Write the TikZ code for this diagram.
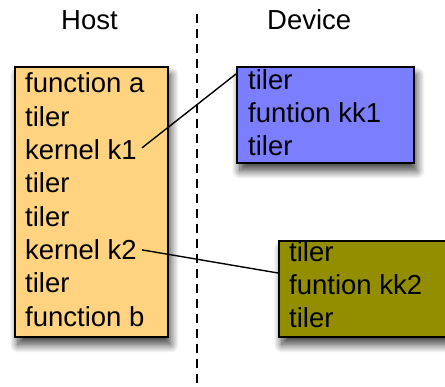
\documentclass[tikz,border=0pt]{standalone}
\usepackage{fontspec}
\setmainfont{Liberation Sans}
\usetikzlibrary{shadows.blur}
\definecolor{hostfill}{RGB}{255,211,128}
\definecolor{kkonefill}{RGB}{122,126,255}
\definecolor{kktwofill}{RGB}{146,142,0}
\tikzset{
  boxstyle/.style={draw=black, line width=1.6pt, rectangle, anchor=north west, inner sep=0pt,
    blur shadow={shadow xshift=3pt, shadow yshift=-8pt, shadow blur steps=14, shadow blur radius=8pt, shadow opacity=75}},
  txt/.style={anchor=base west, inner sep=0pt},
  conn/.style={draw=black, line width=1.4pt},
  divider/.style={draw=black, line width=1.4pt, dash pattern=on 9pt off 6pt}
}
\begin{document}
\begin{tikzpicture}[x=1pt, y=-1pt, font=\fontsize{27.5pt}{33pt}\selectfont]
\useasboundingbox (0,0) rectangle (445,387);
% titles
\node[txt] (hosttitle) at (61,29.3) {Host};
\node[txt] (devtitle) at (267,29.3) {Device};
% divider
\coordinate (divtop) at (197,14);
\coordinate (divbot) at (197,390);
\draw[divider] (divtop) -- (divbot);
% boxes
\node[boxstyle, fill=hostfill, minimum width=153pt, minimum height=270pt] (host) at (14,66) {};
\node[boxstyle, fill=kkonefill, minimum width=177pt, minimum height=96pt] (kkone) at (236,66) {};
\node[boxstyle, fill=kktwofill, minimum width=190pt, minimum height=96pt] (kktwo) at (278,240) {};
% host text
\node[txt] (h1) at (25,93) {function a};
\node[txt] (h2) at (25,126.3) {tiler};
\node[txt] (k1) at (25,159.7) {kernel k1};
\node[txt] (h4) at (25,193) {tiler};
\node[txt] (h5) at (25,226.3) {tiler};
\node[txt] (k2) at (25,259.7) {kernel k2};
\node[txt] (h7) at (25,293) {tiler};
\node[txt] (h8) at (25,326.3) {function b};
% device kk1 text
\node[txt] (a1) at (248,89.5) {tiler};
\node[txt] (a2) at (248,122.7) {funtion kk1};
\node[txt] (a3) at (248,155.7) {tiler};
% device kk2 text
\node[txt] (b1) at (289,262) {tiler};
\node[txt] (b2) at (289,295) {funtion kk2};
\node[txt] (b3) at (289,328) {tiler};
% connectors
\draw[conn] ([xshift=5pt,yshift=2pt]k1.east) -- ([yshift=-8pt]kkone.north west);
\draw[conn] ([xshift=5pt,yshift=0pt]k2.east) -- ([yshift=-33pt]kktwo.north west);
\end{tikzpicture}
\end{document}
